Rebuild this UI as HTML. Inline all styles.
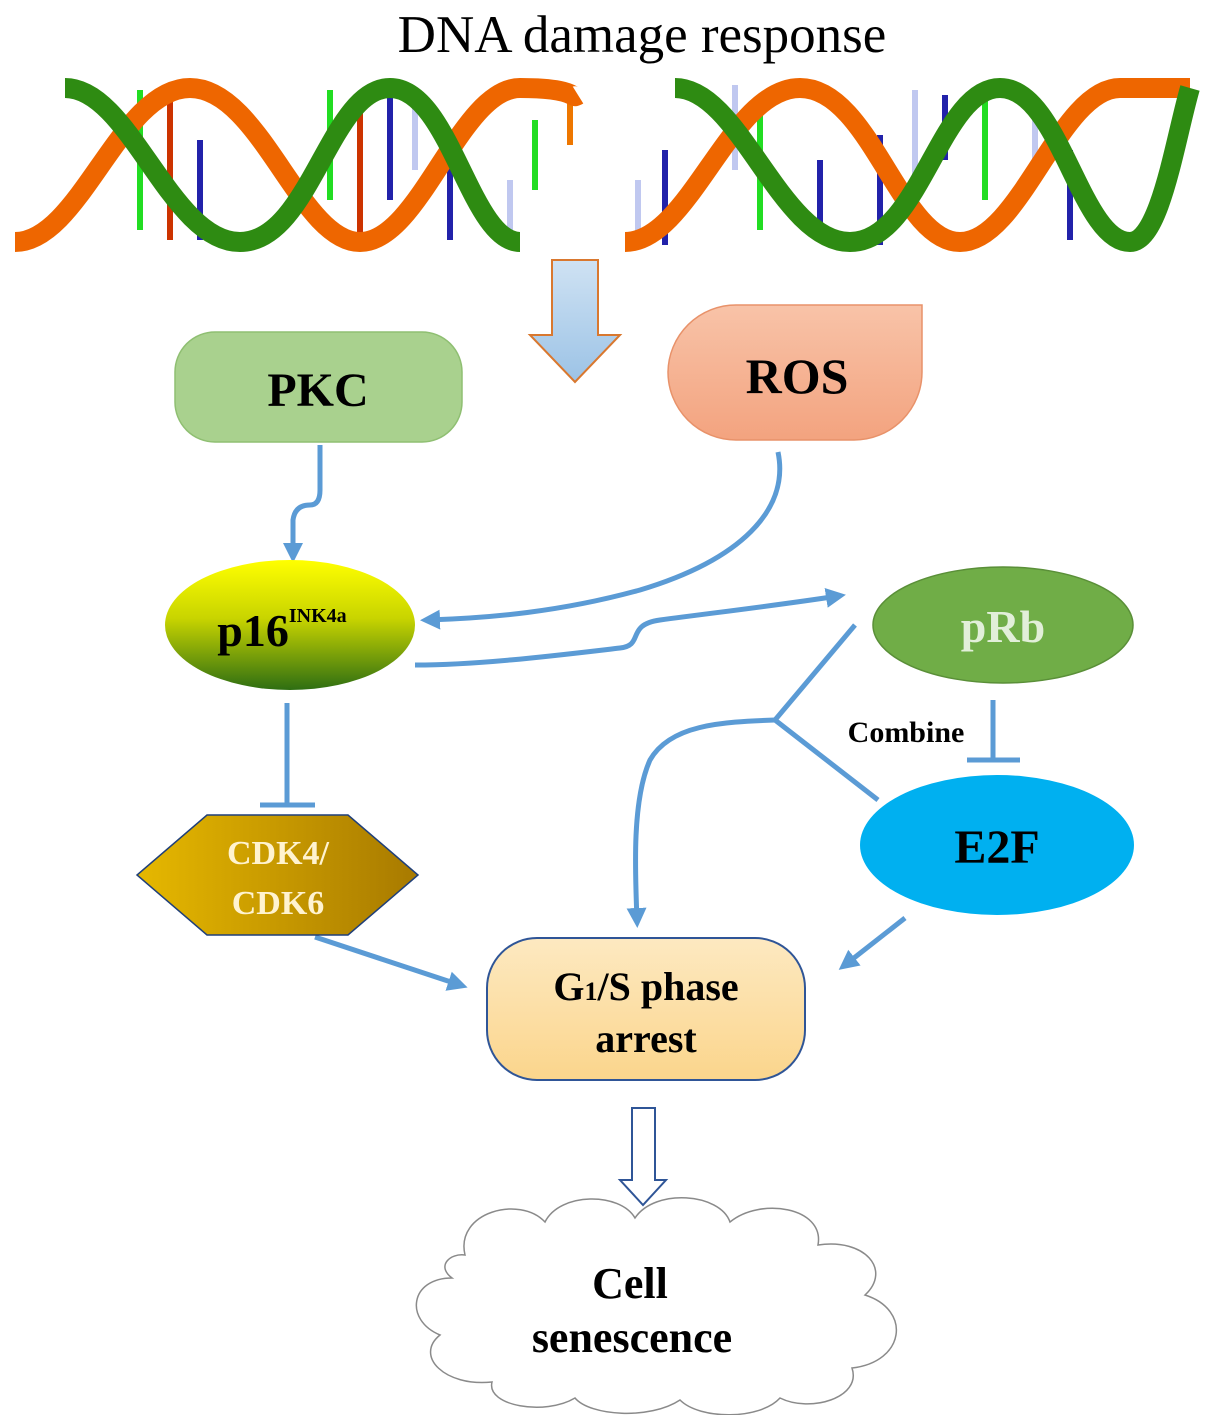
<!DOCTYPE html>
<html><head><meta charset="utf-8"><style>
html,body{margin:0;padding:0;background:#fff}
svg{display:block}
text{font-family:"Liberation Serif",serif}
</style></head><body>
<svg width="1205" height="1415" viewBox="0 0 1205 1415" xmlns="http://www.w3.org/2000/svg">
<defs>
<linearGradient id="arr" x1="0" y1="0" x2="0" y2="1"><stop offset="0" stop-color="#cfe2f3"/><stop offset="1" stop-color="#9cc3e6"/></linearGradient>
<linearGradient id="p16" x1="0" y1="0" x2="0" y2="1"><stop offset="0" stop-color="#ffff00"/><stop offset="0.45" stop-color="#c8d400"/><stop offset="1" stop-color="#2e6e12"/></linearGradient>
<linearGradient id="cdk" x1="0" y1="0" x2="1" y2="0"><stop offset="0" stop-color="#e6b800"/><stop offset="1" stop-color="#a87a00"/></linearGradient>
<linearGradient id="g1" x1="0" y1="0" x2="0" y2="1"><stop offset="0" stop-color="#fde9c1"/><stop offset="1" stop-color="#fbd58c"/></linearGradient>
<linearGradient id="ros" x1="0" y1="0" x2="0" y2="1"><stop offset="0" stop-color="#f8c3a8"/><stop offset="1" stop-color="#f3a37f"/></linearGradient>
<marker id="ah" viewBox="0 0 10 10" refX="6" refY="5" markerWidth="4" markerHeight="4" orient="auto-start-reverse"><path d="M0,0L10,5L0,10z" fill="#5b9bd5"/></marker>
</defs>

<text x="642" y="52" font-size="53" text-anchor="middle">DNA damage response</text>

<!-- DNA left -->
<g>
<g stroke-width="6">
<line x1="140" y1="90" x2="140" y2="230" stroke="#22dd22"/>
<line x1="170" y1="100" x2="170" y2="240" stroke="#cc3300"/>
<line x1="200" y1="140" x2="200" y2="240" stroke="#2222aa"/>
<line x1="330" y1="90" x2="330" y2="200" stroke="#22dd22"/>
<line x1="360" y1="100" x2="360" y2="240" stroke="#cc3300"/>
<line x1="390" y1="85" x2="390" y2="200" stroke="#2222aa"/>
<line x1="415" y1="95" x2="415" y2="170" stroke="#c0c8f0"/>
<line x1="450" y1="140" x2="450" y2="240" stroke="#2222aa"/>
<line x1="510" y1="180" x2="510" y2="240" stroke="#c0c8f0"/>
<line x1="535" y1="120" x2="535" y2="190" stroke="#22dd22"/>
<line x1="570" y1="90" x2="570" y2="145" stroke="#ee7700"/>
</g>
<path d="M15,242 C80,242 120,88 190,88 S300,242 360,242 S460,88 520,88 S570,100 578,95" fill="none" stroke="#ee6600" stroke-width="20"/>
<path d="M65,88 C130,88 170,242 240,242 S330,88 390,88 S470,242 520,242" fill="none" stroke="#2e8b12" stroke-width="20"/>
</g>
<!-- DNA right -->
<g>
<g stroke-width="6">
<line x1="638" y1="180" x2="638" y2="245" stroke="#c0c8f0"/>
<line x1="665" y1="150" x2="665" y2="245" stroke="#2222aa"/>
<line x1="735" y1="85" x2="735" y2="170" stroke="#c0c8f0"/>
<line x1="760" y1="100" x2="760" y2="230" stroke="#22dd22"/>
<line x1="820" y1="160" x2="820" y2="240" stroke="#2222aa"/>
<line x1="880" y1="135" x2="880" y2="245" stroke="#2222aa"/>
<line x1="915" y1="90" x2="915" y2="180" stroke="#c0c8f0"/>
<line x1="945" y1="95" x2="945" y2="160" stroke="#2222aa"/>
<line x1="985" y1="90" x2="985" y2="200" stroke="#22dd22"/>
<line x1="1035" y1="100" x2="1035" y2="170" stroke="#c0c8f0"/>
<line x1="1070" y1="150" x2="1070" y2="240" stroke="#2222aa"/>
</g>
<path d="M625,242 C690,242 730,88 800,88 S900,242 960,242 S1060,88 1120,88 L1190,88" fill="none" stroke="#ee6600" stroke-width="20"/>
<path d="M675,88 C740,88 780,242 850,242 S940,88 1000,88 S1080,242 1130,242 C1160,242 1175,140 1190,88" fill="none" stroke="#2e8b12" stroke-width="20"/>
</g>

<!-- big arrow -->
<path d="M552,260 H598 V335 H620 L575,382 L530,335 H552 Z" fill="url(#arr)" stroke="#d9782f" stroke-width="2"/>

<!-- PKC -->
<rect x="175" y="332" width="287" height="110" rx="40" fill="#a9d18e" stroke="#8fbf72" stroke-width="1.5"/>
<text x="318" y="406" font-size="48" font-weight="bold" text-anchor="middle">PKC</text>
<!-- ROS -->
<path d="M922,305 V372 A68,68 0 0 1 854,440 H736 A68,68 0 0 1 668,372 A68,68 0 0 1 736,305 Z" fill="url(#ros)" stroke="#e8926a" stroke-width="1.5"/>
<text x="797" y="393" font-size="50" font-weight="bold" text-anchor="middle">ROS</text>

<!-- connectors -->
<g fill="none" stroke="#5b9bd5" stroke-width="5">
<path d="M320,445 V490 Q320,505 310,505 Q295,505 293,520 V555" marker-end="url(#ah)"/>
<path d="M778,452 C790,510 740,560 640,590 C560,612 490,618 428,620" marker-end="url(#ah)"/>
<path d="M415,665 C480,665 560,655 620,648 C645,645 625,625 660,620 C720,612 780,605 838,596" marker-end="url(#ah)"/>
<path d="M287,703 V805"/>
<path d="M260,805 H315"/>
<path d="M855,625 L775,720"/>
<path d="M775,720 L878,800"/>
<path d="M775,720 C720,722 670,725 650,760 C632,800 635,870 637,920" marker-end="url(#ah)"/>
<path d="M993,700 V760"/>
<path d="M967,760 H1020"/>
<path d="M315,937 L460,985" marker-end="url(#ah)"/>
<path d="M905,918 L845,965" marker-end="url(#ah)"/>
</g>

<!-- p16 -->
<ellipse cx="290" cy="625" rx="125" ry="65" fill="url(#p16)"/>
<text x="282" y="646" font-size="46" font-weight="bold" text-anchor="middle">p16<tspan font-size="20" dy="-24">INK4a</tspan></text>
<!-- pRb -->
<ellipse cx="1003" cy="625" rx="130" ry="58" fill="#70ad47" stroke="#5a8f38" stroke-width="1.5"/>
<text x="1003" y="642" font-size="46" font-weight="bold" fill="#e2efd9" text-anchor="middle">pRb</text>
<!-- E2F -->
<ellipse cx="997" cy="845" rx="137" ry="70" fill="#00b0f0"/>
<text x="997" y="863" font-size="48" font-weight="bold" text-anchor="middle">E2F</text>
<text x="906" y="742" font-size="30" font-weight="bold" text-anchor="middle">Combine</text>

<!-- CDK -->
<path d="M207,815 H348 L418,875 L348,935 H207 L137,875 Z" fill="url(#cdk)" stroke="#1f3f7a" stroke-width="1.5"/>
<text x="278" y="864" font-size="34" font-weight="bold" fill="#fff3d0" text-anchor="middle">CDK4/</text>
<text x="278" y="914" font-size="34" font-weight="bold" fill="#fff3d0" text-anchor="middle">CDK6</text>

<!-- G1/S -->
<rect x="487" y="938" width="318" height="142" rx="50" fill="url(#g1)" stroke="#2f5597" stroke-width="2"/>
<text x="646" y="1000" font-size="40" font-weight="bold" text-anchor="middle">G<tspan font-size="26">1</tspan>/S phase</text>
<text x="646" y="1052" font-size="40" font-weight="bold" text-anchor="middle">arrest</text>

<!-- hollow arrow -->
<path d="M632,1108 H655 V1180 H666 L643,1205 L620,1180 H632 Z" fill="#fff" stroke="#2f5597" stroke-width="2"/>

<!-- cloud -->
<path d="M465,1255 C455,1212 520,1195 545,1222 C560,1192 620,1192 635,1218 C655,1188 720,1193 730,1222 C760,1197 825,1207 818,1245 C865,1238 892,1270 865,1295 C912,1310 905,1362 852,1368 C862,1398 810,1413 780,1398 C760,1420 700,1420 680,1400 C650,1420 590,1416 575,1398 C545,1416 486,1406 492,1382 C445,1387 414,1356 440,1335 C404,1320 410,1278 452,1278 C436,1266 450,1253 465,1255 Z" fill="#fff" stroke="#8a8a8a" stroke-width="1.5"/>
<text x="630" y="1298" font-size="44" font-weight="bold" text-anchor="middle">Cell</text>
<text x="632" y="1352" font-size="44" font-weight="bold" text-anchor="middle">senescence</text>
</svg>
</body></html>
